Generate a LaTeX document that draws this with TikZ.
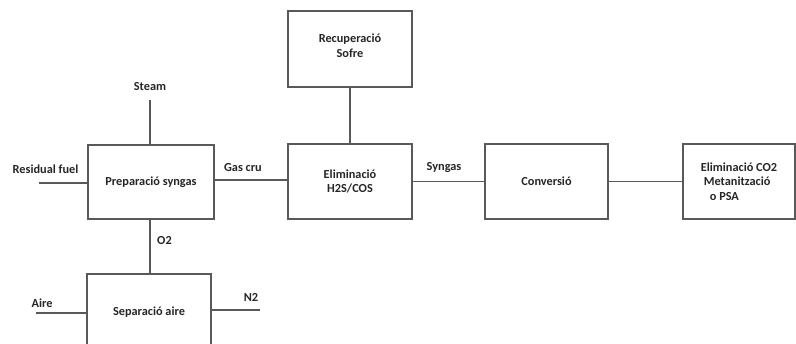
\documentclass[tikz,border=0pt]{standalone}
\usepackage{fontspec}
\setmainfont{Carlito}
\begin{document}
\begin{tikzpicture}[x=1pt,y=-1pt,
  line/.style={draw=linegray,line width=1.3pt},
  block/.style={line,fill=white,inner sep=0pt,align=center,
    font=\fontsize{12.3}{14.5}\selectfont\bfseries,text=txt},
  lbl/.style={inner sep=0pt,align=center,font=\fontsize{12.3}{14.5}\selectfont\bfseries,text=txt}]
\definecolor{linegray}{HTML}{595959}
\definecolor{txt}{HTML}{262626}
\useasboundingbox (0,0) rectangle (796,344);
% process blocks
\node[block,minimum width=126pt,minimum height=74pt] (prep) at (151,182) {Preparació syngas};
\node[block,minimum width=124pt,minimum height=75pt] (elim) at (350,181.5) {Eliminació\\H2S/COS};
\node[block,minimum width=124pt,minimum height=76pt] (recup) at (350,49) {};
\node[lbl] (recuptext) at (350,45.5) {Recuperació\\Sofre};
\node[block,minimum width=123pt,minimum height=75pt] (conv) at (546.5,181.5) {Conversió};
\node[block,minimum width=112pt,minimum height=75pt,align=left] (final) at (739,181.5)
  {Eliminació CO2\\\hspace*{3pt}Metanització\\\hspace*{9pt}o PSA};
\node[block,minimum width=124pt,minimum height=76pt] (sep) at (149,312) {Separació aire};
% free ends of the feed and product lines
\coordinate (steam) at (150,100);
\coordinate (fuel) at (39,183);
\coordinate (crude) at (214,180);
\coordinate (air) at (36,313);
\coordinate (nitro) at (260,310);
% connectors
\draw[line] (steam) -- (steam |- prep.north);
\draw[line] (fuel) -- (fuel -| prep.west);
\draw[line] (crude -| prep.east) -- (crude -| elim.west);
\draw[line] (recup) -- (elim);
\draw[line] (elim) -- (conv);
\draw[line] (conv) -- (final);
\draw[line] (150,0 |- prep.south) -- (150,0 |- sep.north);
\draw[line] (air) -- (air -| sep.west);
\draw[line] (nitro -| sep.east) -- (nitro);
% stream labels
\node[lbl] (tsteam) at (150,87) {Steam};
\node[lbl] (tfuel) at (45.5,169) {Residual fuel};
\node[lbl] (tgas) at (243,168) {Gas cru};
\node[lbl] (tsyn) at (444,168) {Syngas};
\node[lbl] (to2) at (164.5,241) {O2};
\node[lbl] (tair) at (42,303) {Aire};
\node[lbl] (tn2) at (251,297) {N2};
\end{tikzpicture}
\end{document}
